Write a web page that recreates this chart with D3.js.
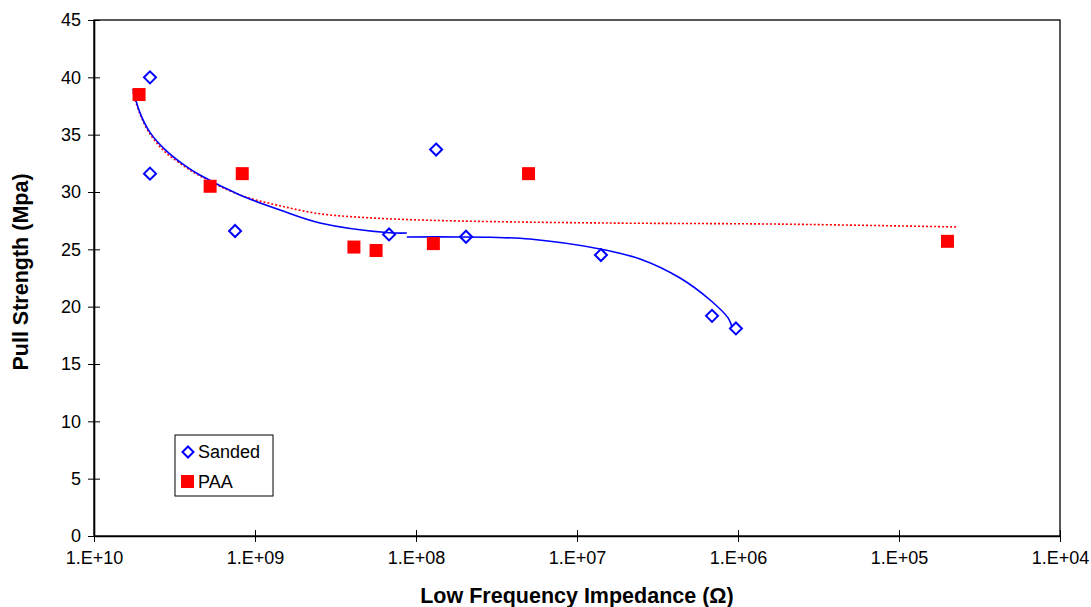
<!DOCTYPE html>
<html><head><meta charset="utf-8">
<script src="https://cdn.jsdelivr.net/npm/d3@7"></script>
<style>body{margin:0;background:#fff}svg{display:block}</style>
</head><body><svg id="c" width="1091" height="607"></svg>
<script>
const xTicks = [1e10, 1e9, 1e8, 1e7, 1e6, 1e5, 1e4];
const yTicks = [0, 5, 10, 15, 20, 25, 30, 35, 40, 45];
const sandedX = [4.49e9, 4.49e9, 1.33e9, 1.47e8, 7.5e7, 4.89e7, 7.1e6, 1.45e6, 1.03e6];
const sandedY = [40.0, 31.6, 26.6, 26.3, 33.7, 26.1, 24.5, 19.2, 18.1];
const paaX = [5.25e9, 1.9e9, 1.2e9, 2.43e8, 1.77e8, 7.8e7, 2.0e7, 5.0e4];
const paaY = [38.5, 30.5, 31.6, 25.2, 24.9, 25.5, 31.6, 25.7];
// trendlines
const sandedTrendA = [[5.73e9,38.98],[5.18e9,36.9],[4.49e9,35.2],[3.62e9,33.7],[2.72e9,32.3],[2.2e9,31.48],[1.24e9,29.74],[7.0e8,28.43],[3.95e8,27.3],[1.47e8,26.45],[1.14e8,26.42]];
const sandedTrendB = [[1.14e8,26.08],[5.33e7,26.08],[3.47e7,26.05],[1.96e7,25.9],[7.19e6,25.03],[4.06e6,24.16],[2.29e6,22.5],[1.49e6,20.58],[1.15e6,19.0],[1.09e6,18.23]];
const paaTrend = [[5.73e9,38.7],[5.18e9,36.8],[4.49e9,35.06],[3.62e9,33.5],[2.72e9,32.2],[2.2e9,31.4],[1.24e9,29.74],[7.0e8,28.8],[3.95e8,28.1],[2.23e8,27.8],[1.26e8,27.62],[5.33e7,27.47],[7.19e6,27.3],[5.48e5,27.2],[4.3e4,26.95]];
const legendLabels = ["Sanded", "PAA"];

const svg = d3.select("#c");
const x = d3.scaleLog().domain([1e10, 1e4]).range([94, 1060]);
const y = d3.scaleLinear().domain([0, 45]).range([536, 20]);
const font = "Liberation Sans, Arial, sans-serif";

// frame
svg.append("rect").attr("x", 94).attr("y", 20).attr("width", 1060-94).attr("height", 536-20)
  .attr("fill", "none").attr("stroke", "#000").attr("stroke-width", 1.3);

// x axis
const xa = svg.append("g").attr("transform", "translate(0,536)")
  .call(d3.axisBottom(x).tickValues(xTicks).tickSizeOuter(0).tickSizeInner(6)
    .tickFormat(d => "1.E+" + String(Math.round(Math.log10(d))).padStart(2, "0")));
xa.select(".domain").attr("stroke-width", 1.3);
xa.selectAll(".tick line").attr("y1", -6).attr("y2", 6);
xa.selectAll(".tick text").attr("font-family", font).attr("font-size", 18).attr("fill", "#000").attr("dy", "1.05em");

// y axis
const ya = svg.append("g").attr("transform", "translate(94,0)")
  .call(d3.axisLeft(y).tickValues(yTicks).tickSizeOuter(0).tickSizeInner(6));
ya.select(".domain").attr("stroke-width", 1.6);
ya.selectAll(".tick line").attr("x1", -6).attr("x2", 6);
ya.selectAll(".tick text").attr("font-family", font).attr("font-size", 18).attr("fill", "#000").attr("x", -13);

// titles
svg.append("text").attr("x", 577).attr("y", 603).attr("text-anchor", "middle")
  .attr("font-family", font).attr("font-weight", "bold").attr("font-size", 21.5).text("Low Frequency Impedance (Ω)");
svg.append("text").attr("transform", "translate(28,272) rotate(-90)").attr("text-anchor", "middle")
  .attr("font-family", font).attr("font-weight", "bold").attr("font-size", 21.5).text("Pull Strength (Mpa)");

// trendlines
const line = d3.line().x(d => x(d[0])).y(d => y(d[1])).curve(d3.curveCatmullRom);
svg.append("path").attr("d", line(paaTrend)).attr("fill", "none").attr("stroke", "#ff0000")
  .attr("stroke-width", 1.6).attr("stroke-dasharray", "2,2");
[sandedTrendA, sandedTrendB].forEach(seg => svg.append("path").attr("d", line(seg))
  .attr("fill", "none").attr("stroke", "#0000ff").attr("stroke-width", 1.6));

// markers
const diamond = (cx, cy, r) => `M${cx},${cy-r}L${cx+r},${cy}L${cx},${cy+r}L${cx-r},${cy}Z`;
svg.append("g").selectAll("path").data(sandedX).join("path")
  .attr("d", (d, i) => diamond(x(d), y(sandedY[i]), 6))
  .attr("fill", "none").attr("stroke", "#0000ff").attr("stroke-width", 2);
svg.append("g").selectAll("rect").data(paaX).join("rect")
  .attr("x", d => x(d) - 6.5).attr("y", (d, i) => y(paaY[i]) - 6.5)
  .attr("width", 13).attr("height", 13).attr("fill", "#ff0000");

// legend
const lg = svg.append("g");
lg.append("rect").attr("x", 175).attr("y", 435).attr("width", 98).attr("height", 61)
  .attr("fill", "#fff").attr("stroke", "#000").attr("stroke-width", 1);
lg.append("path").attr("d", diamond(188, 452, 5.5)).attr("fill", "none").attr("stroke", "#0000ff").attr("stroke-width", 2);
lg.append("rect").attr("x", 181).attr("y", 475).attr("width", 13).attr("height", 13).attr("fill", "#ff0000");
legendLabels.forEach((t, i) => lg.append("text").attr("x", 198).attr("y", 458 + i * 30)
  .attr("font-family", font).attr("font-size", 18).text(t));
</script></body></html>
